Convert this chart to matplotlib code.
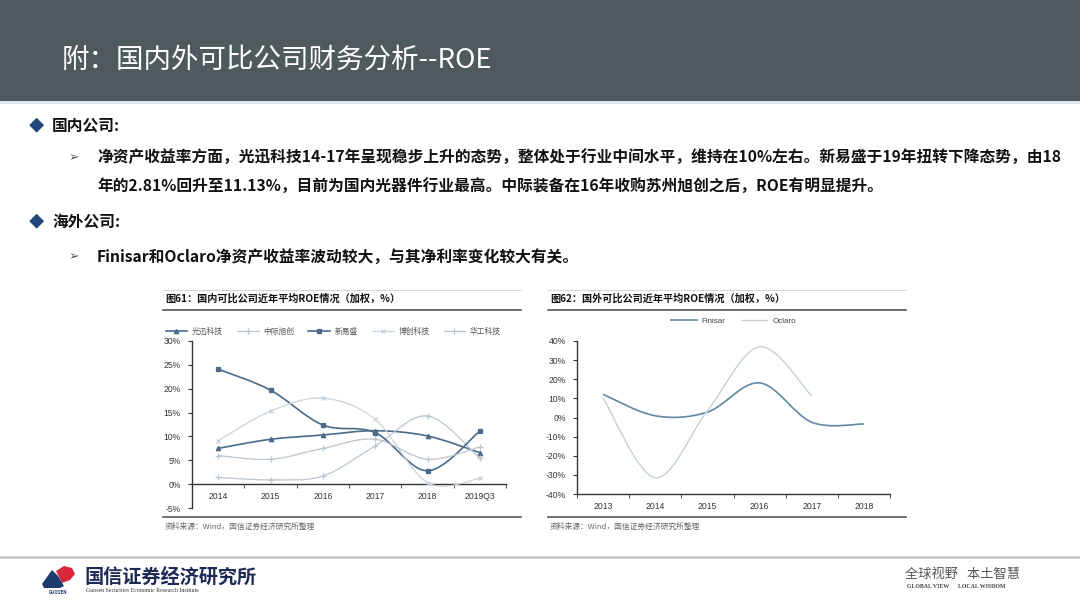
import matplotlib
matplotlib.use("Agg")
import matplotlib.pyplot as plt
from matplotlib.path import Path
from matplotlib.patches import PathPatch, Rectangle, Polygon
from matplotlib.lines import Line2D

plt.rcParams['font.family'] = ['Noto Sans CJK SC', 'DejaVu Sans']

W, H = 1080, 608

# chart 1: domestic companies, ROE %
years1 = ["2014", "2015", "2016", "2017", "2018", "2019Q3"]
guangxun = [7.5, 9.4, 10.3, 11.2, 10.1, 6.6]
zhongji = [1.4, 0.9, 1.7, 8.0, 14.3, 5.4]
xinyisheng = [24.1, 19.7, 12.4, 10.8, 2.81, 11.13]
bochuang = [9.1, 15.3, 18.0, 13.6, 0.3, 1.2]
huagong = [6.0, 5.2, 7.5, 9.4, 5.2, 7.8]
names1 = ["光迅科技", "中际旭创", "新易盛", "博创科技", "华工科技"]

# chart 2: overseas companies, ROE %
years2 = ["2013", "2014", "2015", "2016", "2017", "2018"]
finisar = [12.1, 0.9, 2.8, 18.1, -2.5, -3.4]
oclaro = [10.3, -31.5, 3.5, 37.0, 11.2]
names2 = ["Finisar", "Oclaro"]

DARK = "#4b6a8a"
LIGHT1 = "#b9c6cf"
LIGHT2 = "#c9d3da"
FIN = "#5f8aa3"
OCL = "#c5d0d7"


def fx(x):
    return x / W


def fy(y):
    return 1 - y / H


def smooth_path(xs, ys):
    # excel style smoothed line through the points
    n = len(xs)
    verts = [(xs[0], ys[0])]
    codes = [Path.MOVETO]
    for i in range(n - 1):
        a = i - 1 if i > 0 else i
        d = i + 2 if i + 2 < n else i + 1
        c1 = (xs[i] + (xs[i + 1] - xs[a]) / 6, ys[i] + (ys[i + 1] - ys[a]) / 6)
        c2 = (xs[i + 1] - (xs[d] - xs[i]) / 6, ys[i + 1] - (ys[d] - ys[i]) / 6)
        verts += [c1, c2, (xs[i + 1], ys[i + 1])]
        codes += [Path.CURVE4] * 3
    return Path(verts, codes)


def draw_series(ax, vals, color, lw, marker, ms):
    xs = list(range(len(vals)))
    ax.add_patch(PathPatch(smooth_path(xs, vals), fill=False, edgecolor=color, lw=lw, zorder=3))
    if marker:
        ax.plot(xs, vals, ls='none', marker=marker, color=color, ms=ms, mew=0.9, zorder=4)
    return Line2D([], [], color=color, lw=lw, marker=marker, ms=ms, mew=0.9)


fig = plt.figure(figsize=(10.8, 6.08), dpi=100)

# header band
fig.patches.append(Rectangle((0, fy(101)), 1, 101 / H, transform=fig.transFigure,
                             facecolor="#4f5a5e", edgecolor="none"))
fig.patches.append(Rectangle((0, fy(104)), 1, 3 / H, transform=fig.transFigure,
                             facecolor="#dde7ec", edgecolor="none"))
fig.text(fx(62), fy(60), "附：国内外可比公司财务分析--ROE", color="white", fontsize=19.8,
         va="center", ha="left")

# body text
body = dict(fontsize=11.3, fontweight="bold", color="#111111", va="center", ha="left")
fig.text(fx(29), fy(126), "◆", color="#22467a", fontsize=11, va="center")
fig.text(fx(52), fy(126), "国内公司:", **body)
fig.text(fx(69), fy(158), "➢", color="#555555", fontsize=9, va="center",
         family=["DejaVu Sans"])
fig.text(fx(97), fy(158), "净资产收益率方面，光迅科技14-17年呈现稳步上升的态势，整体处于行业中间水平，"
         "维持在10%左右。新易盛于19年扭转下降态势，由18", **body)
fig.text(fx(97), fy(187), "年的2.81%回升至11.13%，目前为国内光器件行业最高。中际装备在16年收购苏州旭创之后，"
         "ROE有明显提升。", **body)
fig.text(fx(29), fy(222), "◆", color="#22467a", fontsize=11, va="center")
fig.text(fx(52), fy(222), "海外公司:", **body)
fig.text(fx(69), fy(257), "➢", color="#555555", fontsize=9, va="center",
         family=["DejaVu Sans"])
fig.text(fx(97), fy(257), "Finisar和Oclaro净资产收益率波动较大，与其净利率变化较大有关。", **body)

# panel frames
for x0, x1, title in [(163, 521, "图61：国内可比公司近年平均ROE情况（加权，%）"),
                      (548, 906, "图62：国外可比公司近年平均ROE情况（加权，%）")]:
    fig.lines.append(Line2D([fx(x0), fx(x1)], [fy(290), fy(290)], transform=fig.transFigure,
                            color="#d0d0d0", lw=0.6))
    fig.lines.append(Line2D([fx(x0), fx(x1)], [fy(310), fy(310)], transform=fig.transFigure,
                            color="#555555", lw=1.2))
    fig.lines.append(Line2D([fx(x0), fx(x1)], [fy(517), fy(517)], transform=fig.transFigure,
                            color="#555555", lw=1.2))
    fig.text(fx(x0 + 2), fy(299), title, fontsize=7.3, fontweight="bold", color="#111111",
             va="center")
    fig.text(fx(x0 + 2), fy(527), "资料来源：Wind，国信证券经济研究所整理", fontsize=5.6,
             color="#666666", va="center")

tick_font = dict(family=["Liberation Sans", "DejaVu Sans"], size=6.2, color="#333333")


def style_axes(ax, labels, ylo, yhi, step, zero_axis):
    ax.set_xlim(-0.5, len(labels) - 0.5)
    ax.set_ylim(ylo, yhi)
    for s in ["top", "right"]:
        ax.spines[s].set_visible(False)
    ax.spines["left"].set_color("#333333")
    ax.spines["bottom"].set_color("#333333")
    ax.spines["left"].set_linewidth(1.0)
    ax.spines["bottom"].set_linewidth(1.0)
    if zero_axis:
        ax.spines["bottom"].set_position(("data", 0))
    ax.set_xticks(range(len(labels)))
    ax.set_xticklabels(labels)
    ax.set_xticks([i - 0.5 for i in range(len(labels) + 1)], minor=True)
    ax.tick_params(axis="x", which="major", length=0, pad=6)
    ax.tick_params(axis="x", which="minor", length=3, direction="out", color="#333333")
    yt = list(range(ylo, yhi + 1, step))
    ax.set_yticks(yt)
    ax.set_yticklabels([f"{v}%" for v in yt])
    ax.tick_params(axis="y", length=3, direction="out", color="#333333", pad=5)
    for lab in ax.get_xticklabels() + ax.get_yticklabels():
        lab.set_fontfamily(tick_font["family"])
        lab.set_fontsize(tick_font["size"])
        lab.set_color(tick_font["color"])
    ax.patch.set_alpha(0)


# chart 1
ax1 = fig.add_axes([fx(192), fy(508), (506 - 192) / W, (508 - 341) / H])
style_axes(ax1, years1, -5, 30, 5, True)
handles1 = [
    draw_series(ax1, guangxun, DARK, 1.2, "^", 3.2),
    draw_series(ax1, zhongji, LIGHT1, 0.9, "+", 4),
    draw_series(ax1, xinyisheng, DARK, 1.2, "s", 3),
    draw_series(ax1, bochuang, LIGHT2, 0.9, "x", 3.5),
    draw_series(ax1, huagong, LIGHT1, 0.9, "+", 4),
]
leg1 = ax1.legend(handles1, names1, ncol=5, loc="lower center", bbox_to_anchor=(0.45, 1.0),
                  frameon=False, fontsize=5.6, handlelength=2.8, columnspacing=1.8,
                  handletextpad=0.6, borderaxespad=0.3)
for t in leg1.get_texts():
    t.set_color("#555555")

# chart 2
ax2 = fig.add_axes([fx(577), fy(494), (890 - 577) / W, (494 - 341) / H])
style_axes(ax2, years2, -40, 40, 10, False)
handles2 = [
    draw_series(ax2, finisar, FIN, 1.2, None, 0),
    draw_series(ax2, oclaro, OCL, 1.0, None, 0),
]
leg2 = ax2.legend(handles2, names2, ncol=2, loc="lower center", bbox_to_anchor=(0.5, 1.06),
                  frameon=False, prop={"family": ["Liberation Sans", "DejaVu Sans"], "size": 5.8},
                  handlelength=3.2, columnspacing=2.0, handletextpad=0.6)
for t in leg2.get_texts():
    t.set_color("#444444")

# footer
fig.lines.append(Line2D([0, 1], [fy(557), fy(557)], transform=fig.transFigure,
                        color="#c4c4c4", lw=1.8))
logo_red = [(56, 571), (64, 566), (72, 568), (75, 574), (70, 580), (62, 583)]
logo_blue = [(42, 584), (52, 570), (58, 576), (64, 586), (60, 588), (44, 588)]
for pts, col in [(logo_red, "#d8283a"), (logo_blue, "#1d3a6e")]:
    fig.patches.append(Polygon([(fx(x), fy(y)) for x, y in pts], closed=True,
                               transform=fig.transFigure, facecolor=col, edgecolor="none"))
fig.text(fx(58), fy(592), "GUOSEN", fontsize=3.2, fontweight="bold", color="#1d3a6e",
         ha="center", va="center")
fig.text(fx(85), fy(577), "国信证券经济研究所", fontsize=13.8, fontweight="bold",
         color="#1d2a55", va="center")
fig.text(fx(86), fy(591), "Guosen Securities Economic Research Institute", fontsize=4.2,
         color="#333333", va="center", family=["Liberation Serif", "DejaVu Serif"])
fig.text(fx(905), fy(574), "全球视野   本土智慧", fontsize=9.5, color="#555555", va="center")
fig.text(fx(907), fy(586), "GLOBAL VIEW      LOCAL WISDOM", fontsize=4.2, color="#444444",
         va="center", fontweight="bold", family=["Liberation Serif", "DejaVu Serif"])

fig.savefig("out.png", dpi=100)
